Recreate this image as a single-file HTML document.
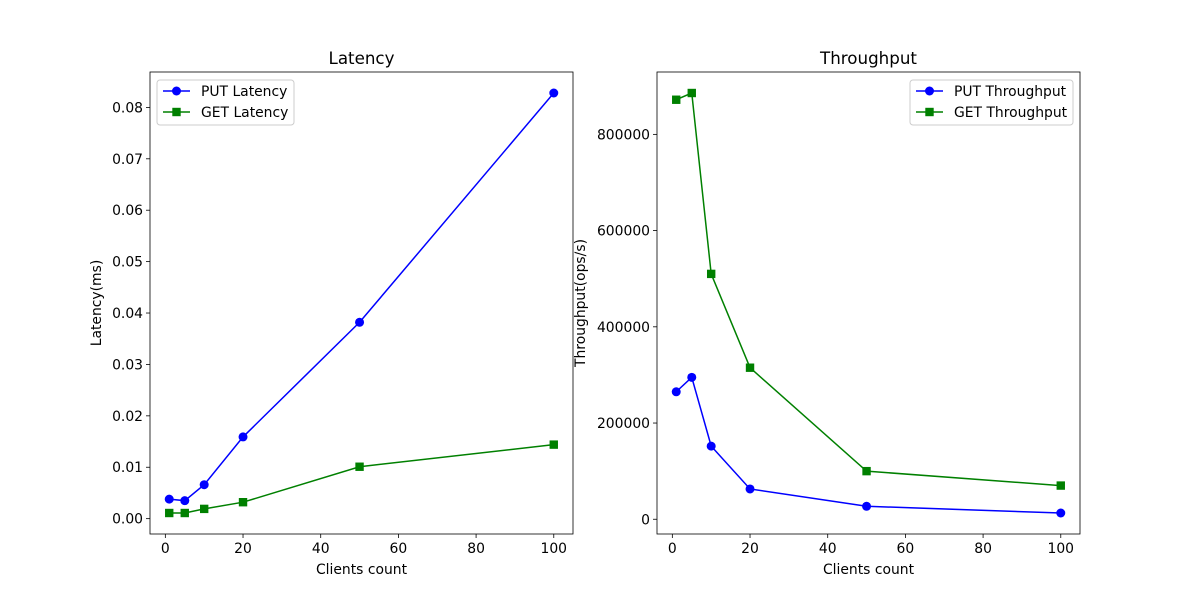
<!DOCTYPE html>
<html><head><meta charset="utf-8"><style>
body{margin:0;background:#fff}
svg{font-family:"DejaVu Sans","Liberation Sans",sans-serif}
</style></head><body>
<svg id="fig" width="1200" height="600" xmlns="http://www.w3.org/2000/svg"></svg>
<script>
const clients = [1, 5, 10, 20, 50, 100];
const putLatency = [0.0038, 0.0035, 0.0066, 0.0159, 0.0382, 0.0828];
const getLatency = [0.0011, 0.0011, 0.0019, 0.0032, 0.0101, 0.0144];
const putThroughput = [265000, 295000, 152000, 63000, 27000, 13000];
const getThroughput = [872000, 886000, 510000, 315000, 100000, 70000];
const xTicks = [0, 20, 40, 60, 80, 100];
const latTicks = [0, 0.01, 0.02, 0.03, 0.04, 0.05, 0.06, 0.07, 0.08];
const latTickLabels = ["0.00","0.01","0.02","0.03","0.04","0.05","0.06","0.07","0.08"];
const thrTicks = [0, 200000, 400000, 600000, 800000];
const thrTickLabels = ["0","200000","400000","600000","800000"];

const svg = document.getElementById('fig');
const NS = 'http://www.w3.org/2000/svg';
function mk(tag, attrs, parent) {
  const e = document.createElementNS(NS, tag);
  for (const k in attrs) e.setAttribute(k, attrs[k]);
  (parent || svg).appendChild(e);
  return e;
}
function lim(arrs) {
  const all = [].concat(...arrs);
  const mn = Math.min(...all), mx = Math.max(...all), m = (mx - mn) * 0.05;
  return [mn - m, mx + m];
}
function panel(opt) {
  const g = mk('g', {});
  
  
  const L = opt.x0, R = opt.x1, T = 72, B = 534;
  const [xmin, xmax] = lim([clients]);
  const [ymin, ymax] = lim(opt.series.map(s => s.data));
  const sx = v => L + (v - xmin) / (xmax - xmin) * (R - L);
  const sy = v => B - (v - ymin) / (ymax - ymin) * (B - T);
  xTicks.forEach(t => {
    const x = sx(t);
    mk('line', {x1: x, x2: x, y1: B, y2: B + 4, stroke: '#000', 'stroke-width': 0.8}, g);
    const tx = mk('text', {x: x, y: B + 19, 'text-anchor': 'middle', 'font-size': 13.9}, g);
    tx.textContent = t;
    
    
  });
  opt.yTicks.forEach((t, i) => {
    const y = sy(t);
    mk('line', {x1: L - 4, x2: L, y1: y, y2: y, stroke: '#000', 'stroke-width': 0.8}, g);
    const tx = mk('text', {x: L - 7, y: y + 5, 'text-anchor': 'end', 'font-size': 13.9}, g);
    tx.textContent = opt.yLabels[i];
    
    
  });
  opt.series.forEach(s => {
    const pts = clients.map((c, i) => sx(c) + ',' + sy(s.data[i])).join(' ');
    const pl = mk('polyline', {points: pts, fill: 'none', stroke: s.color, 'stroke-width': 1.5}, g);
    
    
    clients.forEach((c, i) => {
      let m;
      if (s.marker === 'o') m = mk('circle', {cx: sx(c), cy: sy(s.data[i]), r: 4.5, fill: s.color}, g);
      else m = mk('rect', {x: sx(c) - 4.2, y: sy(s.data[i]) - 4.2, width: 8.4, height: 8.4, fill: s.color}, g);
      
      
    });
  });
  mk('rect', {x: L, y: T, width: R - L, height: B - T, fill: 'none', stroke: '#000', 'stroke-width': 0.8}, g);
  const ti = mk('text', {x: (L + R) / 2, y: 64, 'text-anchor': 'middle', 'font-size': 16.7}, g);
  ti.textContent = opt.title;
  
  
  const xl = mk('text', {x: (L + R) / 2, y: 574, 'text-anchor': 'middle', 'font-size': 13.9}, g);
  xl.textContent = 'Clients count';
  
  
  const yc = (T + B) / 2;
  const yl = mk('text', {x: opt.ylx, y: yc, 'text-anchor': 'middle', 'font-size': 13.9, transform: `rotate(-90 ${opt.ylx} ${yc})`}, g);
  yl.textContent = opt.ylabel;
  
  
  const lg = mk('g', {}, g);
  
  
  mk('rect', {x: opt.lx, y: 80, width: opt.lw, height: 45, rx: 3, fill: '#fff', 'fill-opacity': 0.8, stroke: '#ccc'}, lg);
  opt.series.forEach((s, i) => {
    const y = 91 + i * 21;
    const x = opt.lx + 6;
    mk('line', {x1: x, x2: x + 27, y1: y, y2: y, stroke: s.color, 'stroke-width': 1.5}, lg);
    if (s.marker === 'o') mk('circle', {cx: x + 13.5, cy: y, r: 4.5, fill: s.color}, lg);
    else mk('rect', {x: x + 9.3, y: y - 4.2, width: 8.4, height: 8.4, fill: s.color}, lg);
    const t = mk('text', {x: x + 38, y: y + 5, 'font-size': 13.9}, lg);
    t.textContent = s.label;
    
    
  });
}
panel({name: 'latency-chart', x0: 150, x1: 573, title: 'Latency', ylabel: 'Latency(ms)', ylx: 101,
  yTicks: latTicks, yLabels: latTickLabels, lx: 157, lw: 137,
  series: [{key: 'put-latency', label: 'PUT Latency', data: putLatency, color: '#0000ff', marker: 'o'},
           {key: 'get-latency', label: 'GET Latency', data: getLatency, color: '#008000', marker: 's'}]});
panel({name: 'throughput-chart', x0: 657, x1: 1080, title: 'Throughput', ylabel: 'Throughput(ops/s)', ylx: 585,
  yTicks: thrTicks, yLabels: thrTickLabels, lx: 910, lw: 163,
  series: [{key: 'put-throughput', label: 'PUT Throughput', data: putThroughput, color: '#0000ff', marker: 'o'},
           {key: 'get-throughput', label: 'GET Throughput', data: getThroughput, color: '#008000', marker: 's'}]});
</script>
</body></html>
